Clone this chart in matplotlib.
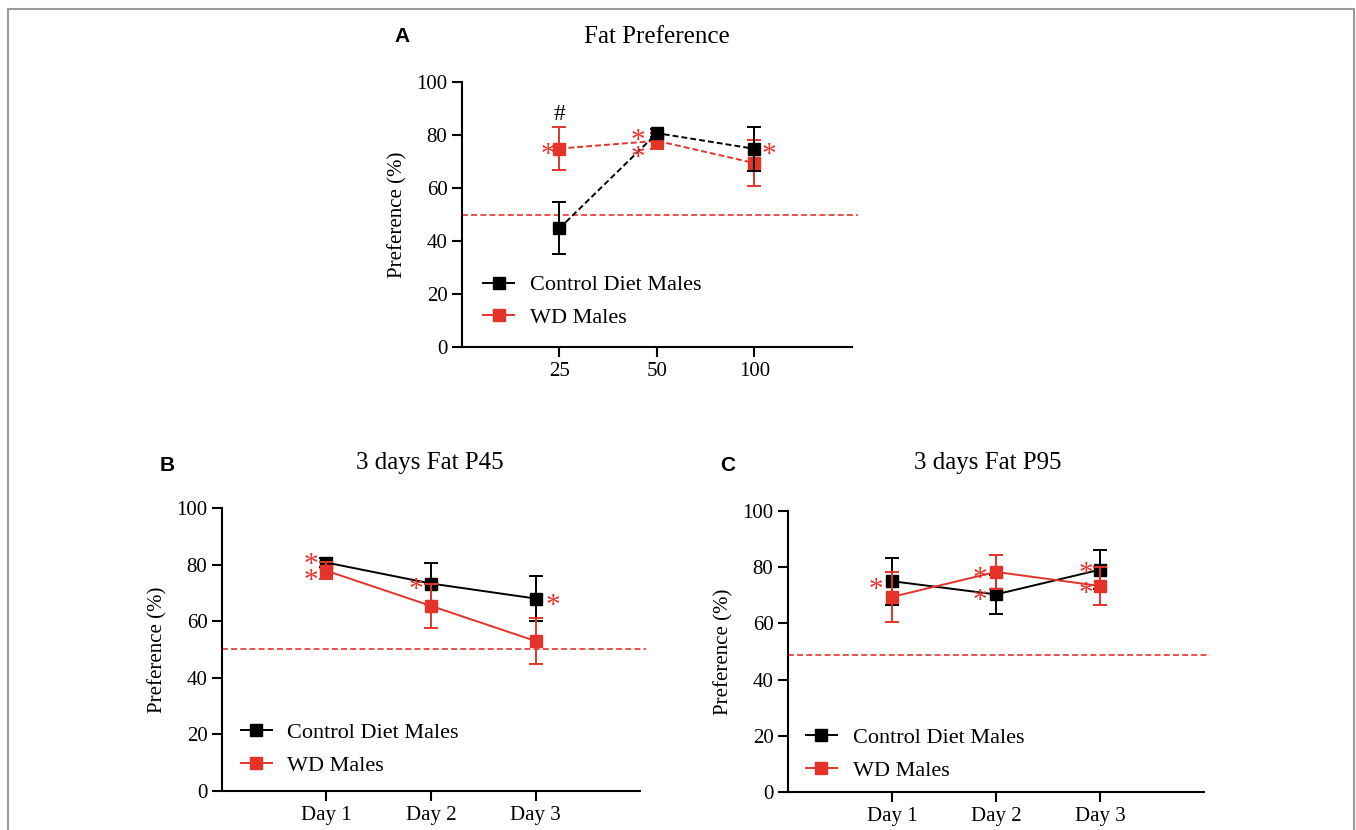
import matplotlib.pyplot as plt
from matplotlib.patches import Rectangle
from matplotlib.lines import Line2D

plt.rcParams['font.family'] = ['Liberation Serif', 'DejaVu Serif']

RED = '#e5332a'

# Panel A - fat concentration
conc_labels = ['25', '50', '100']
a_ctrl = [44.8, 80.7, 74.8]
a_ctrl_err = [9.8, 1.5, 8.4]
a_wd = [74.9, 77.8, 69.4]
a_wd_err = [8.0, 3.0, 8.8]

# Panel B - 3 days P45
day_labels = ['Day 1', 'Day 2', 'Day 3']
b_ctrl = [80.7, 73.3, 68.0]
b_ctrl_err = [1.5, 7.3, 7.9]
b_wd = [77.8, 65.4, 53.0]
b_wd_err = [3.0, 7.7, 8.2]

# Panel C - 3 days P95
c_ctrl = [75.0, 70.3, 79.1]
c_ctrl_err = [8.3, 6.8, 6.9]
c_wd = [69.4, 78.3, 73.3]
c_wd_err = [8.9, 6.2, 6.9]

# significance marks: (category index, x offset, y centre, gap in px if two stacked)
a_stars = [(0, -0.12, 74.5, 0), (1, -0.20, 76.6, 15), (2, 0.15, 74.5, 0)]
b_stars = [(0, -0.15, 79.0, 13), (1, -0.14, 72.8, 0), (2, 0.17, 67.5, 0)]
c_stars = [(0, -0.15, 73.7, 0), (1, -0.15, 73.9, 22), (2, -0.14, 76.0, 19)]

fig = plt.figure(figsize=(13.56, 8.30), dpi=100)
fig.patches.append(Rectangle((8 / 1356, -0.01), 1346 / 1356, 1 - 9 / 830 + 0.01,
                             transform=fig.transFigure, fill=False,
                             edgecolor='#9a9a9a', lw=1.5))


def panel(rect, labels, ctrl, ctrl_err, wd, wd_err, ref, ls, stars, ctrl_top, leg_xy):
    ax = fig.add_axes(rect)
    x = [1, 2, 3]
    z_c, z_w = (4, 3) if ctrl_top else (3, 4)
    ax.errorbar(x, ctrl, yerr=ctrl_err, color='black', marker='s', ms=8,
                ls=ls, lw=1.4, capsize=5, elinewidth=1.4, capthick=1.4,
                zorder=z_c)
    ax.errorbar(x, wd, yerr=wd_err, color=RED, marker='s', ms=8,
                ls=ls, lw=1.4, capsize=5, elinewidth=1.4, capthick=1.4,
                zorder=z_w)
    ax.axhline(ref, xmin=0, xmax=1.015, color=RED, ls=(0, (3.5, 2)), lw=1.2,
               clip_on=False, zorder=2)
    for i, dx, yv, gap in stars:
        txt = '*\n*' if gap else '*'
        ax.annotate(txt, (x[i] + dx, yv), xytext=(0, -4), textcoords='offset points',
                    color=RED, fontsize=21, ha='center', va='center',
                    linespacing=(gap / 27 if gap else 1), zorder=5)
    ax.set_xlim(0, 4)
    ax.set_ylim(0, 100)
    ax.set_xticks(x)
    ax.set_xticklabels(labels)
    ax.set_yticks([0, 20, 40, 60, 80, 100])
    for s in ['top', 'right']:
        ax.spines[s].set_visible(False)
    for s in ['left', 'bottom']:
        ax.spines[s].set_linewidth(1.5)
    ax.tick_params(axis='both', labelsize=15, width=1.5, length=7, direction='out')
    ax.set_ylabel('Preference (%)', fontsize=15, labelpad=6)
    handles = [Line2D([], [], color='black', marker='s', ms=8, lw=1.4),
               Line2D([], [], color=RED, marker='s', ms=8, lw=1.4)]
    ax.legend(handles, ['Control Diet Males', 'WD Males'],
              loc='center left', bbox_to_anchor=leg_xy, frameon=False,
              fontsize=16, handlelength=1.4, handletextpad=0.7,
              labelspacing=0.55, borderpad=0, borderaxespad=0)
    return ax


axA = panel([0.3407, 0.5819, 0.2876, 0.3193], conc_labels, a_ctrl, a_ctrl_err,
            a_wd, a_wd_err, 50, (0, (3, 1.6)), a_stars, True, (0.054, 0.172))
axA.text(1, 87.7, '#', fontsize=17, ha='center', va='center')
axB = panel([0.1637, 0.0470, 0.3083, 0.3410], day_labels, b_ctrl, b_ctrl_err,
            b_wd, b_wd_err, 50, '-', b_stars, False, (0.045, 0.147))
axC = panel([0.5811, 0.0458, 0.3068, 0.3386], day_labels, c_ctrl, c_ctrl_err,
            c_wd, c_wd_err, 48.9, '-', c_stars, False, (0.043, 0.135))

# titles and panel letters
fig.text(657 / 1356, 1 - 37 / 830, 'Fat Preference', fontsize=18, ha='center', va='center')
fig.text(430 / 1356, 1 - 463 / 830, '3 days Fat P45', fontsize=18, ha='center', va='center')
fig.text(988 / 1356, 1 - 463 / 830, '3 days Fat P95', fontsize=18, ha='center', va='center')
for lx, ly, lt in [(402, 37, 'A'), (167, 465, 'B'), (728, 465, 'C')]:
    fig.text(lx / 1356, 1 - ly / 830, lt, fontsize=15, fontweight='bold',
             family='Liberation Sans', ha='center', va='center')

fig.savefig('out.png', dpi=100)
